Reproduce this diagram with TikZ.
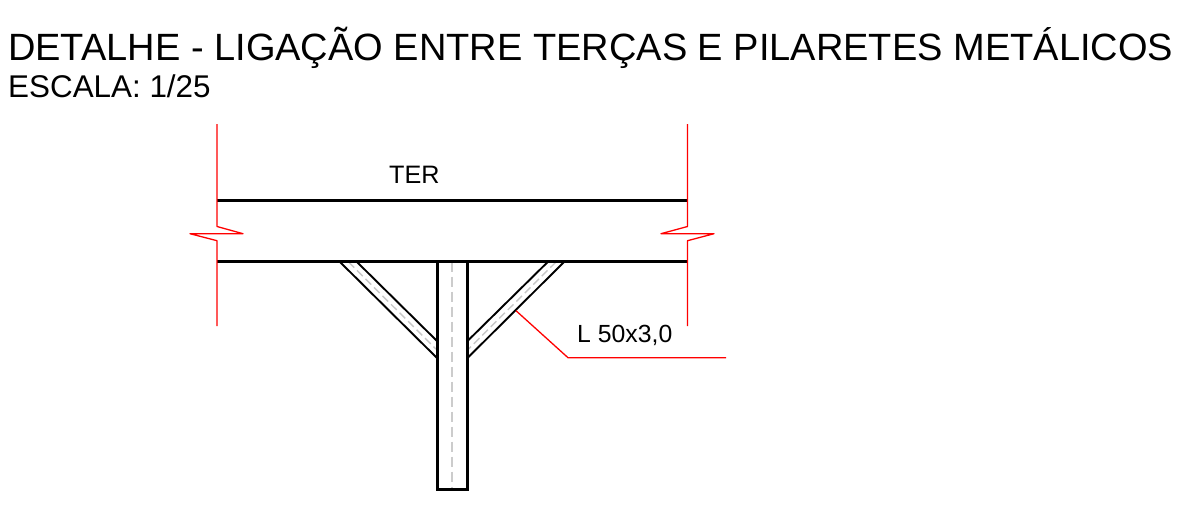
\documentclass[tikz,border=0pt]{standalone}
\usepackage{fontspec}
\usetikzlibrary{calc}
\setmainfont{Liberation Sans}
\tikzset{
  x=1pt,y=-1pt,
  lbl/.style={inner sep=0pt,anchor=base west,text=black},
  steel/.style={draw=black,line width=2.2pt},
  column/.style={draw=black,line width=3pt},
  brace/.style={draw=black,line width=1.9pt},
  axisl/.style={draw=black!20,line width=1.5pt,dash pattern=on 10pt off 5pt},
  axisb/.style={draw=black!22,line width=1.4pt,dash pattern=on 8pt off 4pt},
  redl/.style={draw=red,line width=1.3pt,line join=round},
}
\begin{document}
\begin{tikzpicture}
\useasboundingbox (0,0) rectangle (1190,517);
\node[lbl,font=\fontsize{38}{40}\selectfont] (title) at (8,60.5) {DETALHE - LIGAÇÃO ENTRE TERÇAS E PILARETES METÁLICOS};
\node[lbl,font=\fontsize{31.4}{33}\selectfont] (scale) at (8,97) {ESCALA: 1/25};
\node[lbl,font=\fontsize{25.2}{27}\selectfont] (ter) at (389,183) {TER};
\node[lbl,font=\fontsize{24.8}{27}\selectfont] (prof) at (577,342) {L 50x3,0};
% coordinates
\coordinate (tl) at (217,200.5); \coordinate (tr) at (687.5,200.5);
\coordinate (bl) at (217,261.5); \coordinate (br) at (687.5,261.5);
\coordinate (cl) at (437,261.5); \coordinate (cr) at (467.5,261.5);
\coordinate (cm) at (452,261.5); \coordinate (cmb) at (452,489);
\coordinate (clb) at (437,489); \coordinate (crb) at (467.5,489);
% axes
\draw[axisl] (cm) -- (cmb);
\draw[axisb] (348.5,262) -- (437,350);
\draw[axisb] (556,262) -- (467.5,350);
% purlin
\draw[steel] (tl) -- (tr);
\draw[steel] (bl) -- (br);
% column
\draw[column] (cl) -- (clb);
\draw[column] (cr) -- (crb);
\draw[column] ($(clb)+(-1,0)$) -- ($(crb)+(1,0)$);
% braces
\draw[brace] (340,262) -- (437,358);
\draw[brace] (357,262) -- (437,341);
\draw[brace] (547.7,262) -- (467.5,341);
\draw[brace] (564,262) -- (467.5,358);
% red
\draw[redl] (217,124) -- (217,226.5) -- (243,233.7) -- (190,233.7) -- (217,240.7) -- (217,326);
\draw[redl] (687.5,124) -- (687.5,226.5) -- (661,233.7) -- (714,233.7) -- (687.5,240.7) -- (687.5,326);
\coordinate (la) at (516,310.7); \coordinate (lb) at (568,357.7); \coordinate (lc) at (726,357.7);
\draw[redl] (la) -- (lb) -- (lc);
\end{tikzpicture}
\end{document}
